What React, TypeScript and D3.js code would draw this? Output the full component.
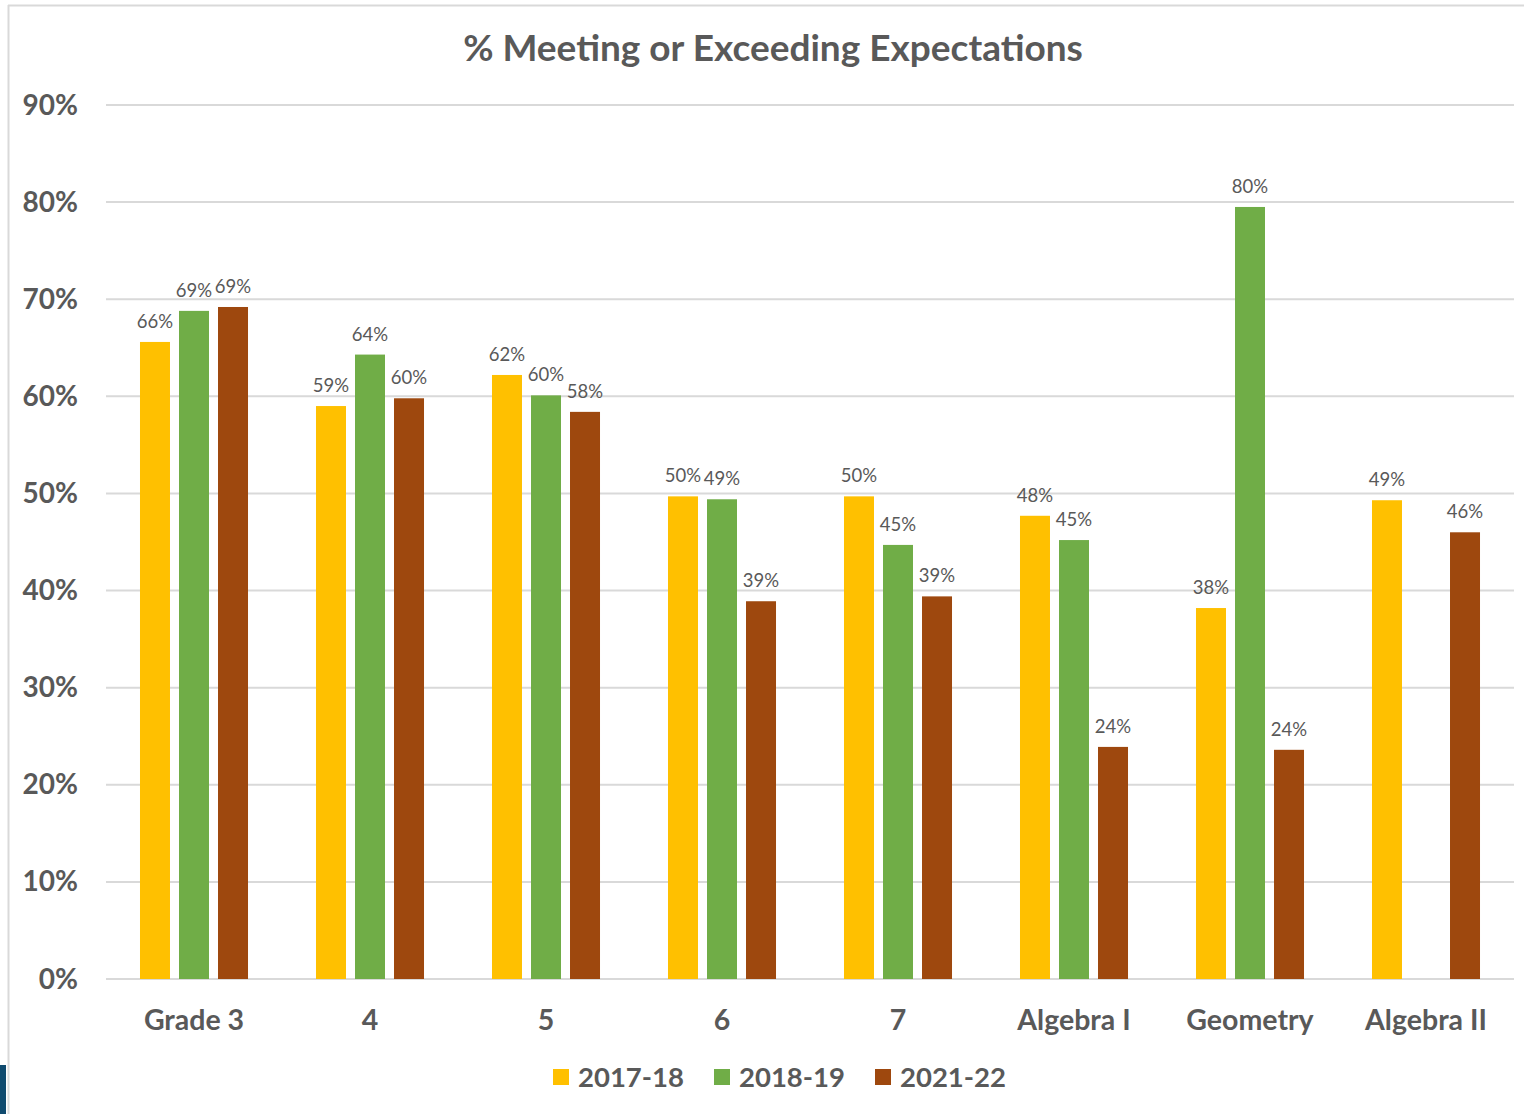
import React from "react";
import * as d3 from "d3";

const categories = ["Grade 3", "4", "5", "6", "7", "Algebra I", "Geometry", "Algebra II"];
const seriesNames = ["2017-18", "2018-19", "2021-22"];
const values2017 = [65.6, 59.0, 62.2, 49.7, 49.7, 47.7, 38.2, 49.3];
const values2018: (number | null)[] = [68.8, 64.3, 60.1, 49.4, 44.7, 45.2, 79.5, null];
const values2021 = [69.2, 59.8, 58.4, 38.9, 39.4, 23.9, 23.6, 46.0];
const seriesColors = ["#FFC000", "#70AD47", "#9E480E"];
const yTicks = [0, 10, 20, 30, 40, 50, 60, 70, 80, 90];
const title = "% Meeting or Exceeding Expectations";

const W = 1524;
const H = 1114;
const FONT = "Lato, 'Open Sans', sans-serif";
const TEXT = "#595959";

export default function App() {
  const seriesValues = [values2017, values2018, values2021];
  const left = 106;
  const right = 1514;
  const top = 105;
  const bottom = 979;

  const y = d3.scaleLinear().domain([0, 90]).range([bottom, top]);
  const x0 = d3
    .scaleBand<string>()
    .domain(categories)
    .range([left, right])
    .paddingInner(0.335)
    .paddingOuter(0.1675);
  const x1 = d3.scaleBand<string>().domain(seriesNames).range([0, x0.bandwidth()]);
  const barW = 30;
  const barOff = (x1.bandwidth() - barW) / 2;

  const legendX = [553, 714, 875];

  return (
    <svg
      width={W}
      height={H}
      style={{ position: "absolute", left: 0, top: 0, background: "#fff" }}
      fontFamily={FONT}
    >
      <rect x={0} y={0} width={W} height={H} fill="#fff" />
      {/* chart frame */}
      <line x1={8.5} y1={5} x2={8.5} y2={H} stroke="#d9d9d9" strokeWidth={2} />
      <line x1={8} y1={5.5} x2={W} y2={5.5} stroke="#d9d9d9" strokeWidth={2} />
      <rect x={0} y={1065} width={6} height={H - 1065} fill="#0f4a6e" />

      <text x={773} y={61} textAnchor="middle" fontSize={37} fontWeight="bold" fill={TEXT}>
        {title}
      </text>

      {yTicks.map((t) => (
        <g key={t}>
          <line x1={left} x2={right} y1={y(t)} y2={y(t)} stroke="#d9d9d9" strokeWidth={2} />
          <text x={78} y={y(t) + 9.5} textAnchor="end" fontSize={28} fontWeight="bold" fill={TEXT}>
            {t}%
          </text>
        </g>
      ))}

      {categories.map((c, ci) => (
        <g key={c}>
          {seriesNames.map((s, si) => {
            const v = seriesValues[si][ci];
            if (v === null || v === undefined) return null;
            const bx = (x0(c) as number) + (x1(s) as number) + barOff;
            return (
              <g key={s}>
                <rect x={bx} y={y(v)} width={barW} height={y(0) - y(v)} fill={seriesColors[si]} />
                <text
                  x={bx + barW / 2}
                  y={y(v) - 14}
                  textAnchor="middle"
                  fontSize={18.5}
                  fill={TEXT}
                >
                  {Math.round(v)}%
                </text>
              </g>
            );
          })}
          <text
            x={(x0(c) as number) + x0.bandwidth() / 2}
            y={1030}
            textAnchor="middle"
            fontSize={28.5}
            fontWeight="bold"
            fill={TEXT}
          >
            {c}
          </text>
        </g>
      ))}

      {seriesNames.map((s, si) => (
        <g key={s}>
          <rect x={legendX[si]} y={1069} width={16} height={16} fill={seriesColors[si]} />
          <text x={legendX[si] + 25} y={1087} fontSize={27.5} fontWeight="bold" fill={TEXT}>
            {s}
          </text>
        </g>
      ))}
    </svg>
  );
}
